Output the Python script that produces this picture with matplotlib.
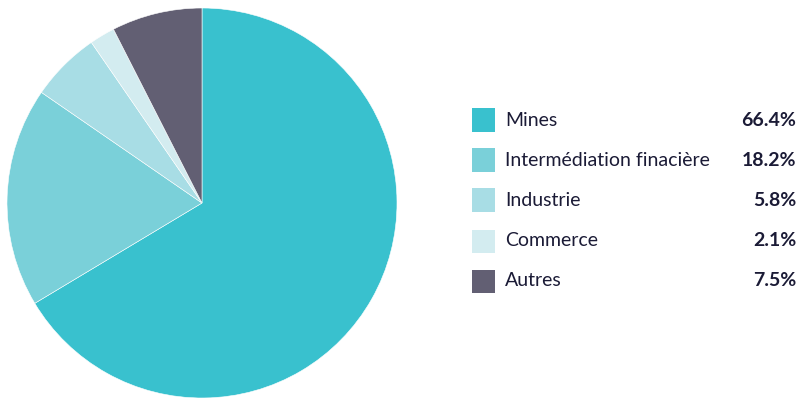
import matplotlib.pyplot as plt
from matplotlib.patches import Rectangle

plt.rcParams["font.family"] = ["Lato", "DejaVu Sans"]

SECTORS = ["Mines", "Intermédiation finacière", "Industrie", "Commerce", "Autres"]
SHARES = [66.4, 18.2, 5.8, 2.1, 7.5]
COLORS = ["#39C1CE", "#7AD0D9", "#A8DDE5", "#D3ECF0", "#625F73"]
TEXT_COLOR = "#1B1B36"

W, H = 798, 399
fig = plt.figure(figsize=(W / 100, H / 100), dpi=100)

# pie: centre (202, 203) px, radius 195 px
cx, cy, r = 202, 203, 195
ax = fig.add_axes([(cx - r) / W, (H - cy - r) / H, 2 * r / W, 2 * r / H])
ax.pie(
    SHARES,
    colors=COLORS,
    startangle=90,
    counterclock=False,
    radius=1,
    wedgeprops={"linewidth": 0.4, "edgecolor": "white"},
)
ax.set_xlim(-1, 1)
ax.set_ylim(-1, 1)
ax.set_aspect("equal")
ax.axis("off")

# legend rows with values on the right
row_y = [120, 160, 200, 241, 281]
for name, share, color, y in zip(SECTORS, SHARES, COLORS, row_y):
    fig.patches.append(Rectangle(
        (472 / W, (H - y - 11.5) / H), 23 / W, 23 / H,
        transform=fig.transFigure, facecolor=color, edgecolor="none",
    ))
    fig.text(505 / W, (H - y) / H, name, fontsize=14, color=TEXT_COLOR,
             ha="left", va="center")
    fig.text(796 / W, (H - y) / H, f"{share}%", fontsize=14, color=TEXT_COLOR,
             fontweight="bold", ha="right", va="center")

fig.savefig("out.png", dpi=100, facecolor="white")
